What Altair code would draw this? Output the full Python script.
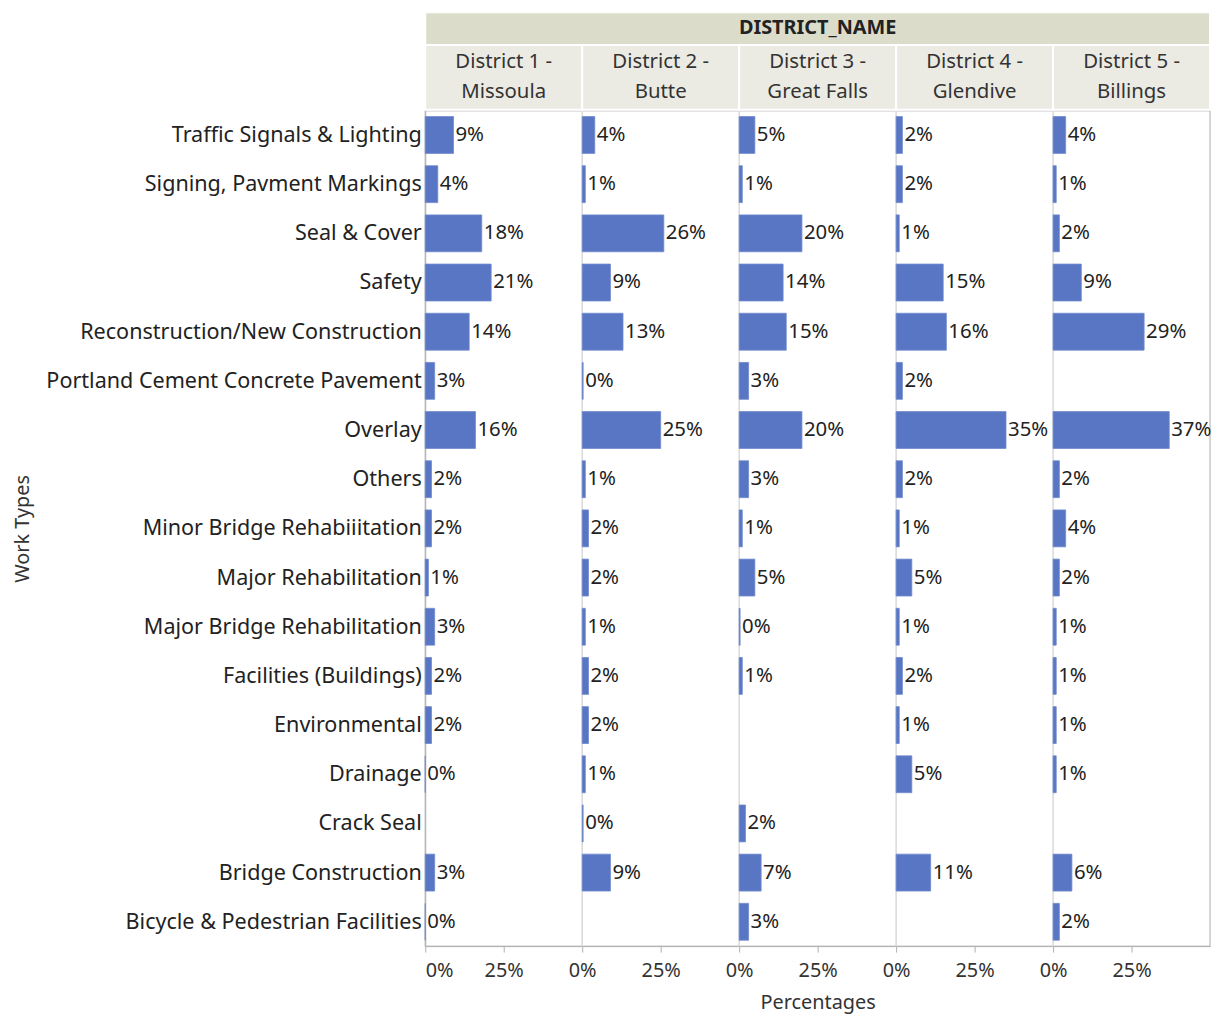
import altair as alt
import pandas as pd

districts = [
    "District 1 -\nMissoula",
    "District 2 -\nButte",
    "District 3 -\nGreat Falls",
    "District 4 -\nGlendive",
    "District 5 -\nBillings",
]

work_types = [
    "Traffic Signals & Lighting",
    "Signing, Pavment Markings",
    "Seal & Cover",
    "Safety",
    "Reconstruction/New Construction",
    "Portland Cement Concrete Pavement",
    "Overlay",
    "Others",
    "Minor Bridge Rehabiiitation",
    "Major Rehabilitation",
    "Major Bridge Rehabilitation",
    "Facilities (Buildings)",
    "Environmental",
    "Drainage",
    "Crack Seal",
    "Bridge Construction",
    "Bicycle & Pedestrian Facilities",
]

# percentages per district, in work_types order (None = no bar)
d1_missoula = [9, 4, 18, 21, 14, 3, 16, 2, 2, 1, 3, 2, 2, 0, None, 3, 0]
d2_butte = [4, 1, 26, 9, 13, 0.3, 25, 1, 2, 2, 1, 2, 2, 1, 0.3, 9, None]
d3_great_falls = [5, 1, 20, 14, 15, 3, 20, 3, 1, 5, 0.3, 1, None, None, 2, 7, 3]
d4_glendive = [2, 2, 1, 15, 16, 2, 35, 2, 1, 5, 1, 2, 1, 5, None, 11, None]
d5_billings = [4, 1, 2, 9, 29, None, 37, 2, 4, 2, 1, 1, 1, 1, None, 6, 2]

series = [d1_missoula, d2_butte, d3_great_falls, d4_glendive, d5_billings]

rows = []
for di, (name, vals) in enumerate(zip(districts, series)):
    for wt, v in zip(work_types, vals):
        if v is None:
            continue
        rows.append({"district": name, "di": di, "work_type": wt, "value": v})
df = pd.DataFrame(rows)

df_head = pd.DataFrame({"district": districts, "di": list(range(len(districts)))})
df_top = pd.DataFrame({"name": ["DISTRICT_NAME"], "n": [len(districts)]})
df_sep = pd.DataFrame({"k": list(range(1, len(districts)))})

FONT = "Noto Sans"
W, H = 790, 841
PANEL = 50
N = len(districts)

xscale = alt.Scale(domain=[0, PANEL * N], nice=False, zero=True)
xaxis = alt.Axis(
    values=[i * 25 for i in range(2 * N)],
    labelExpr="(datum.value % 50 == 0) ? '0%' : '25%'",
    grid=False,
    tickColor="#b0b0b0",
    domainColor="#b0b0b0",
    tickSize=6,
    labelFontSize=20,
    labelColor="#333333",
    labelFont=FONT,
    labelPadding=9,
    titleFontSize=20,
    titleFont=FONT,
    titleFontWeight="normal",
    titleColor="#333333",
    titlePadding=12,
)


def X(field):
    return alt.X(field, scale=xscale, axis=xaxis, title="Percentages")


y = alt.Y(
    "work_type:N",
    sort=work_types,
    title="Work Types",
    scale=alt.Scale(paddingInner=0.25, paddingOuter=0.12),
    axis=alt.Axis(
        ticks=False,
        domainColor="#b0b0b0",
        labelFontSize=21.7,
        labelFont=FONT,
        labelColor="#222222",
        labelPadding=4,
        labelLimit=600,
        titleFontSize=20,
        titleFont=FONT,
        titleFontWeight="normal",
        titleColor="#333333",
        titleX=-395,
        titleY=H / 2,
        titleAngle=270,
    ),
)

base = alt.Chart(df).transform_calculate(
    start=f"datum.di * {PANEL}",
    end=f"datum.di * {PANEL} + datum.value",
    label="format(datum.value, '.0f') + '%'",
)

seps = (
    alt.Chart(df_sep)
    .transform_calculate(pos=f"datum.k * {PANEL}")
    .mark_rule(color="#d9d9d9", strokeWidth=1.5)
    .encode(x=X("pos:Q"))
)

bars = base.mark_bar(color="#5876c4", stroke="#7089cf", strokeWidth=0.8).encode(
    x=X("start:Q"), x2="end:Q", y=y
)

labels = base.mark_text(
    align="left", baseline="middle", dx=2, font=FONT, fontSize=20.5, color="#222222"
).encode(x=X("end:Q"), y=y, text="label:N")

head_rects = (
    alt.Chart(df_head)
    .transform_calculate(hx=f"datum.di * {PANEL}", hx2=f"datum.di * {PANEL} + {PANEL}")
    .mark_rect(color="#ebebe3", stroke="white", strokeWidth=2)
    .encode(x=X("hx:Q"), x2="hx2:Q", y=alt.value(-66), y2=alt.value(-1))
)

head_text = (
    alt.Chart(df_head)
    .transform_calculate(hc=f"datum.di * {PANEL} + {PANEL / 2}")
    .mark_text(
        font=FONT, fontSize=20.5, color="#333333", lineBreak="\n", baseline="middle",
        lineHeight=30,
    )
    .encode(x=X("hc:Q"), y=alt.value(-49), text="district:N")
)

top_rect = (
    alt.Chart(df_top)
    .transform_calculate(lo="0", hi=f"datum.n * {PANEL}")
    .mark_rect(color="#dcdccb", stroke="white", strokeWidth=2)
    .encode(x=X("lo:Q"), x2="hi:Q", y=alt.value(-99), y2=alt.value(-66))
)

top_text = (
    alt.Chart(df_top)
    .transform_calculate(mid=f"datum.n * {PANEL} / 2")
    .mark_text(font=FONT, fontSize=20, fontWeight="bold", color="#222222", baseline="middle")
    .encode(x=X("mid:Q"), y=alt.value(-83), text="name:N")
)

chart = (
    alt.layer(seps, bars, labels, head_rects, head_text, top_rect, top_text)
    .properties(
        width=W,
        height=H,
        background="white",
        padding={"left": 5, "top": 0, "right": 5, "bottom": 0},
    )
    .configure_view(stroke="#c8c8c8", strokeWidth=1.5)
)

chart.save("out.html", embed_options={"renderer": "svg", "actions": False})
